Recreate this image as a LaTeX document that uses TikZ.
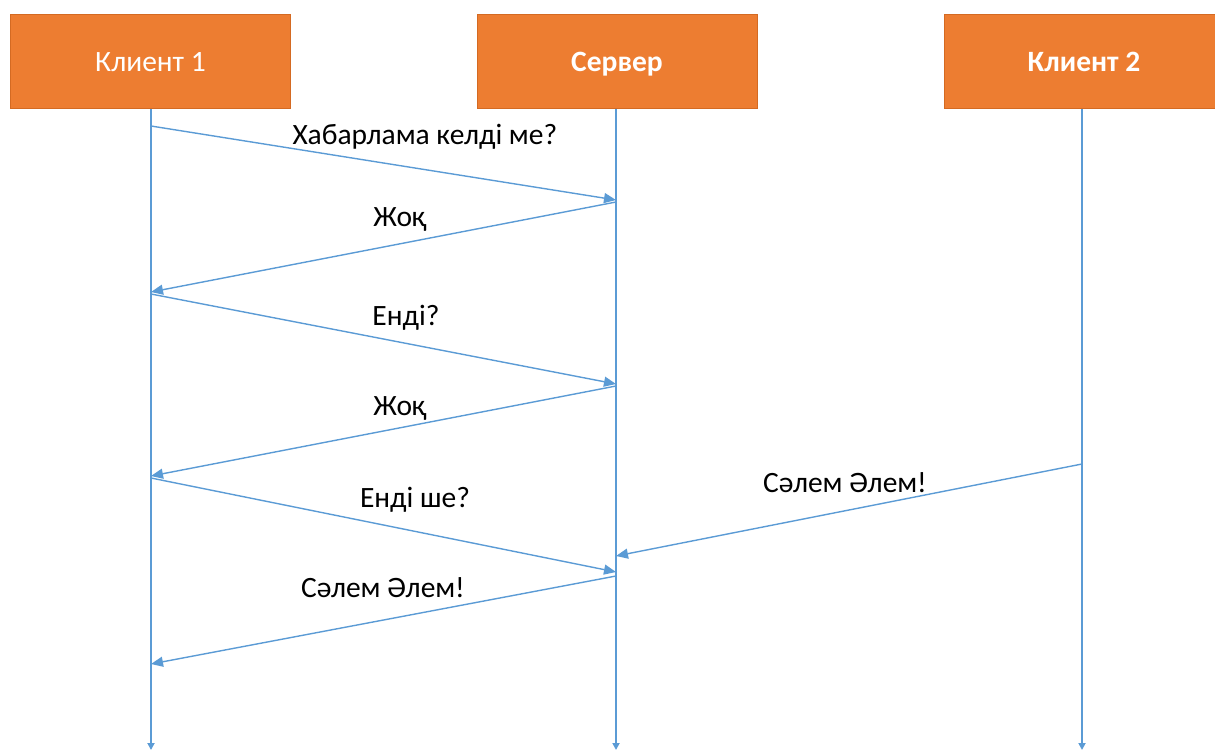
\documentclass[tikz,border=0pt]{standalone}
\usepackage{fontspec}
\setmainfont{Carlito}
\usetikzlibrary{arrows.meta}
\definecolor{boxorange}{HTML}{ED7D31}
\definecolor{boxedge}{HTML}{D46A22}
\definecolor{lineblue}{HTML}{5B9BD5}
\tikzset{
  actor/.style={draw=boxedge, fill=boxorange, line width=1pt, minimum width=280pt, minimum height=94pt, inner sep=0pt, text=white, text height=24pt, text depth=3pt, font=\fontsize{29.5}{34}\selectfont},
  lifeline/.style={draw=lineblue, line width=2pt, -{Triangle[length=7pt,width=7pt]}},
  msg/.style={draw=lineblue, line width=1.4pt, -{Triangle[length=12pt,width=10pt]}},
  lbl/.style={font=\fontsize{29.5}{34}\selectfont, text=black, inner sep=0pt}
}
\begin{document}
\begin{tikzpicture}[x=1pt,y=-1pt]
\useasboundingbox (0,0) rectangle (1215,753);
\node[actor] (c1) at (150.5,61) {Клиент 1};
\node[actor, font=\fontsize{29.5}{34}\selectfont\bfseries] (srv) at (617,61) {Сервер};
\node[actor, font=\fontsize{29.5}{34}\selectfont\bfseries] (c2) at (1084,61) {Клиент 2};
\coordinate (c1b) at (151,750);
\coordinate (srvb) at (616,750);
\coordinate (c2b) at (1082,750);
\draw[lifeline] (c1.south -| c1b) -- (c1b);
\draw[lifeline] (srv.south -| srvb) -- (srvb);
\draw[lifeline] (c2.south -| c2b) -- (c2b);
% message points
\coordinate (a1) at (151,126); \coordinate (b1) at (616,200);
\coordinate (a2) at (616,202); \coordinate (b2) at (151,292);
\coordinate (a3) at (151,294); \coordinate (b3) at (616,384);
\coordinate (a4) at (616,386); \coordinate (b4) at (151,476);
\coordinate (a5) at (151,478); \coordinate (b5) at (616,572);
\coordinate (a6) at (1082,464); \coordinate (b6) at (616,556);
\coordinate (a7) at (616,576); \coordinate (b7) at (151,664);
\draw[msg] (a1) -- (b1);
\draw[msg] (a2) -- (b2);
\draw[msg] (a3) -- (b3);
\draw[msg] (a4) -- (b4);
\draw[msg] (a5) -- (b5);
\draw[msg] (a6) -- (b6);
\draw[msg] (a7) -- (b7);
\node[lbl] (l1) at (425,137) {Хабарлама келді ме?};
\node[lbl] (l2) at (400,219) {Жоқ};
\node[lbl] (l3) at (406,318) {Енді?};
\node[lbl] (l4) at (400,408) {Жоқ};
\node[lbl] (l5) at (415,500) {Енді ше?};
\node[lbl] (l6) at (845,483) {Сәлем Әлем!};
\node[lbl] (l7) at (383,588) {Сәлем Әлем!};
\end{tikzpicture}
\end{document}
